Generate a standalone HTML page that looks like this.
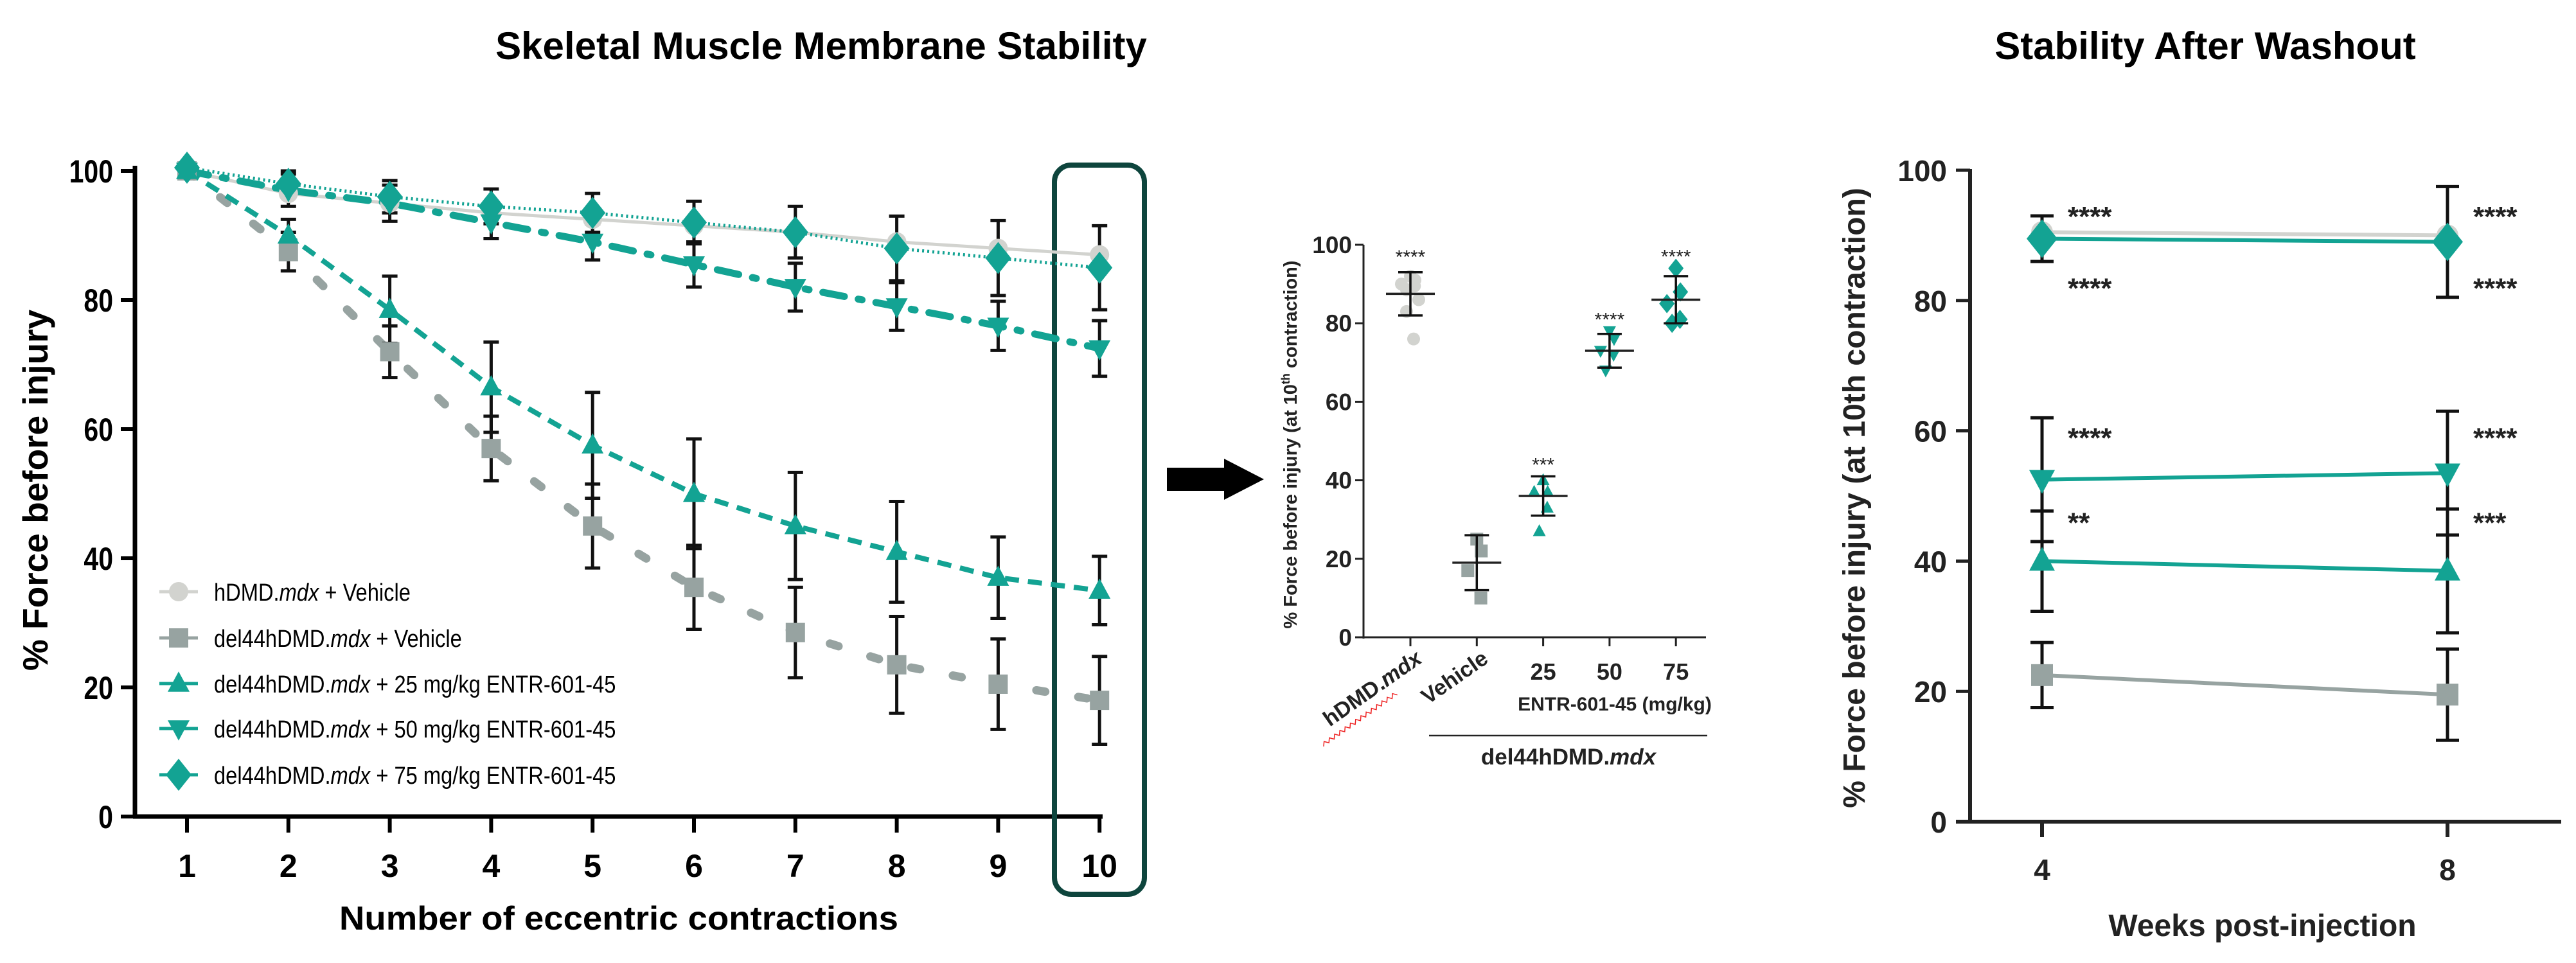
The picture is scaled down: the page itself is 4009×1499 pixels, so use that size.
<!DOCTYPE html>
<html><head><meta charset="utf-8"><style>
html,body{margin:0;padding:0;background:#fff}
svg{display:block}
text{font-family:"Liberation Sans",Arial,sans-serif}
</style></head><body>
<svg id="s" width="4009" height="1499" viewBox="0 0 4009 1499" xmlns="http://www.w3.org/2000/svg">
<text x="1278" y="92" font-size="60" font-weight="bold" text-anchor="middle">Skeletal Muscle Membrane Stability</text>
<text x="3432" y="92" font-size="60" font-weight="bold" text-anchor="middle">Stability After Washout</text>
<g id="left"></g>
<g id="mid"></g>
<g id="right"></g>
<polygon points="1816,728 1905,728 1905,714 1967,746 1905,778 1905,764 1816,764" fill="#000"/>
</svg>
<script>
// ---- left chart data ----
const contractions = [1,2,3,4,5,6,7,8,9,10];
const hdmdVeh = [100,96.5,95,93.5,92.5,91.5,90.5,89,88,87];
const delVeh = [100,87.5,72,57,45,35.5,28.5,23.5,20.5,18];
const delVehErr = [0,3,4,5,6.5,6.5,7,7.5,7,6.8];
const dose25 = [100,90,78.5,66.5,57.5,50,45,41,37,35];
const dose25Err = [0,2.5,5.2,7,8.2,8.5,8.3,7.8,6.3,5.3];
const dose50 = [100,97,95,92,89,85.5,82,79,76,72.5];
const dose50Err = [0,2.5,2.8,2.5,2.8,3.5,3.7,3.7,3.8,4.3];
const dose75 = [100.5,98,96,94.5,93.5,92,90.5,88,86.5,85];
const dose75Err = [0,2,2.5,2.7,3,3.3,4,5,5.8,6.5];
const leftYTicks = [0,20,40,60,80,100];
// ---- middle chart data ----
const midCats = ["hDMD.mdx","Vehicle","25","50","75"];
const midMeans = [87.5,19,36,73,86];
const midSD = [5.5,7,5,4.3,6];
const midPoints = [[92,91,90,89.5,88.5,86,83,76],[25,22,17,10],[40,37,37,33,27],[78,76,73,72,68],[94,88,85,81,80]];
const midStars = ["****","","***","****","****"];
const midYTicks = [0,20,40,60,80,100];
// ---- right chart data ----
const weeks = [4,8];
const rHdmd = [90.5,90];
const rVeh = [22.5,19.5]; const rVehErr = [5,7];
const r25 = [40,38.5]; const r25Err = [7.7,9.5];
const r50 = [52.5,53.5]; const r50Err = [9.5,9.5];
const r75 = [89.5,89]; const r75Err = [3.5,8.5];
const rStars = [["****","****","****","**"],["****","****","****","***"]];
const rStarVals = [94,83,60,47];
const rightYTicks = [0,20,40,60,80,100];

const NS="http://www.w3.org/2000/svg";
function mk(parent,tag,attrs,txt){const e=document.createElementNS(NS,tag);for(const k in attrs)e.setAttribute(k,attrs[k]);if(txt!==undefined)e.textContent=txt;parent.appendChild(e);return e;}
const TEAL="#13a393", GRAY="#97a3a1", LGRAY="#d2d3cf";
function marker(g,type,x,y,r,color){
  let e;
  if(type==="circle") e=mk(g,"circle",{cx:x,cy:y,r:r,fill:color});
  else if(type==="square") e=mk(g,"rect",{x:x-r,y:y-r,width:2*r,height:2*r,fill:color});
  else if(type==="up") e=mk(g,"polygon",{points:`${x},${y-r*1.1} ${x+r},${y+r*0.75} ${x-r},${y+r*0.75}`,fill:color});
  else if(type==="down") e=mk(g,"polygon",{points:`${x},${y+r*1.1} ${x+r},${y-r*0.75} ${x-r},${y-r*0.75}`,fill:color});
  else e=mk(g,"polygon",{points:`${x},${y-r*1.25} ${x+r},${y} ${x},${y+r*1.25} ${x-r},${y}`,fill:color});
  return e;
}
function errbar(g,x,y1,y2,w,sw){
  mk(g,"line",{x1:x,y1:y1,x2:x,y2:y2,stroke:"#111","stroke-width":sw});
  mk(g,"line",{x1:x-w,y1:y1,x2:x+w,y2:y1,stroke:"#111","stroke-width":sw});
  mk(g,"line",{x1:x-w,y1:y2,x2:x+w,y2:y2,stroke:"#111","stroke-width":sw});
}

// ===== LEFT =====
(function(){
const g=document.getElementById("left");
const X=i=>291+(i-1)*157.8, Y=v=>1271-v*10.05;
mk(g,"line",{x1:210,y1:258,x2:210,y2:1273,stroke:"#000","stroke-width":7});
mk(g,"line",{x1:207,y1:1271,x2:1716,y2:1271,stroke:"#000","stroke-width":7});
leftYTicks.forEach(v=>{const t=mk(g,"line",{x1:188,y1:Y(v),x2:210,y2:Y(v),stroke:"#000","stroke-width":6});
 
 const l=mk(g,"text",{x:176,y:Y(v)+18,"font-size":50,"font-weight":"bold","text-anchor":"end",transform:`translate(${176},0) scale(0.82,1) translate(${-176},0)`},String(v));
 });
contractions.forEach(c=>{mk(g,"line",{x1:X(c),y1:1271,x2:X(c),y2:1296,stroke:"#000","stroke-width":6});
 const l=mk(g,"text",{x:X(c),y:1365,"font-size":50,"font-weight":"bold","text-anchor":"middle"},String(c));
 });
let t=mk(g,"text",{x:963,y:1447,"font-size":52,"font-weight":"bold","text-anchor":"middle",textLength:870,lengthAdjust:"spacingAndGlyphs"},"Number of eccentric contractions");

t=mk(g,"text",{x:0,y:0,"font-size":55,"font-weight":"bold","text-anchor":"middle",transform:"translate(74,763) rotate(-90)"},"% Force before injury");

t=mk(g,"rect",{x:1641,y:257,width:140,height:1135,rx:26,fill:"none",stroke:"#0e453d","stroke-width":8});

const series=[
 {v:hdmdVeh,e:null,c:LGRAY,m:"circle",r:15,dash:null,w:5,name:"hdmd-vehicle"},
 {v:delVeh,e:delVehErr,c:GRAY,m:"square",r:15,dash:"14 52",w:13,name:"del44-vehicle"},
 {v:dose25,e:dose25Err,c:TEAL,m:"up",r:17,dash:"22 14",w:8,name:"dose-25"},
 {v:dose50,e:dose50Err,c:TEAL,m:"down",r:17,dash:"34 22 6 22",w:11,name:"dose-50"},
 {v:dose75,e:dose75Err,c:TEAL,m:"diamond",r:20,dash:"3 5",w:5,name:"dose-75"}];
series.forEach(s=>{
 const d=s.v.map((v,i)=>(i?"L":"M")+X(contractions[i])+","+Y(v)).join(" ");
 const p=mk(g,"path",{d:d,fill:"none",stroke:s.c,"stroke-width":s.w,"stroke-linecap":s.dash&&s.w>10?"round":"butt"});
 if(s.dash)p.setAttribute("stroke-dasharray",s.dash);
 
 if(s.e) s.v.forEach((v,i)=>{if(s.e[i]>0)errbar(g,X(contractions[i]),Y(v+s.e[i]),Y(v-s.e[i]),12,5);});
});
series.forEach(s=>{s.v.forEach((v,i)=>{const m=marker(g,s.m,X(contractions[i]),Y(v),s.r,s.c);
 });});
const legY=[921,993,1064,1134,1206];
const legTxt=[["hDMD.","mdx"," + Vehicle"],["del44hDMD.","mdx"," + Vehicle"],["del44hDMD.","mdx"," + 25 mg/kg ENTR-601-45"],["del44hDMD.","mdx"," + 50 mg/kg ENTR-601-45"],["del44hDMD.","mdx"," + 75 mg/kg ENTR-601-45"]];
series.forEach((s,i)=>{
 mk(g,"line",{x1:248,y1:legY[i],x2:308,y2:legY[i],stroke:s.c,"stroke-width":5});
 marker(g,s.m,278,legY[i],s.r,s.c);
 const tx=mk(g,"text",{x:333,y:legY[i]+14,"font-size":38,transform:"translate(333,0) scale(0.86,1) translate(-333,0)"});
 
 mk(tx,"tspan",{},legTxt[i][0]);mk(tx,"tspan",{"font-style":"italic"},legTxt[i][1]);mk(tx,"tspan",{},legTxt[i][2]);
});
})();

// ===== MIDDLE =====
(function(){
const g=document.getElementById("mid");
const X=i=>2195+i*103.3, Y=v=>992-v*6.11;
mk(g,"line",{x1:2122,y1:381,x2:2122,y2:994,stroke:"#222","stroke-width":3});
mk(g,"line",{x1:2109,y1:992,x2:2655,y2:992,stroke:"#222","stroke-width":3});
midYTicks.forEach(v=>{mk(g,"line",{x1:2109,y1:Y(v),x2:2122,y2:Y(v),stroke:"#222","stroke-width":3});
 const l=mk(g,"text",{x:2104,y:Y(v)+13,"font-size":37,"font-weight":"bold","text-anchor":"end",fill:"#222"},String(v));
 });
let t=mk(g,"text",{x:0,y:0,"font-size":29,"font-weight":"bold","text-anchor":"middle",fill:"#222",transform:"translate(2018,692) rotate(-90)"});

mk(t,"tspan",{},"% Force before injury (at 10");mk(t,"tspan",{"font-size":18,dy:-11},"th");mk(t,"tspan",{dy:11}," contraction)");
const types=["circle","square","up","down","diamond"], cols=[LGRAY,GRAY,TEAL,TEAL,TEAL];
midCats.forEach((c,i)=>{
 const x=X(i);
 mk(g,"line",{x1:x,y1:992,x2:x,y2:1006,stroke:"#222","stroke-width":3});
 midPoints[i].forEach((v,j)=>{const n=midPoints[i].length;const dx=n>1?(j%2?1:-1)*((j*7)%22)*(j%3===0?0.3:1):0;
  const m=marker(g,types[i],x+dx,Y(v),i===4?12:10,cols[i]);});
 mk(g,"line",{x1:x-38,y1:Y(midMeans[i]),x2:x+38,y2:Y(midMeans[i]),stroke:"#222","stroke-width":3.5});
 errbar(g,x,Y(midMeans[i]+midSD[i]),Y(midMeans[i]-midSD[i]),19,3.5);
 if(midStars[i]){const s=mk(g,"text",{x:x,y:Y(Math.max(...midPoints[i],midMeans[i]+midSD[i]))+(i===0?-14:-8),"font-size":30,"text-anchor":"middle",fill:"#222"},midStars[i]);
  }
 let l;
 if(i<2){l=mk(g,"text",{x:0,y:0,"font-size":34,"font-weight":"bold","text-anchor":"end",fill:"#222",transform:`translate(${x+20},1030) rotate(-35)`});
  if(i===0){mk(l,"tspan",{},"hDMD.");mk(l,"tspan",{"font-style":"italic"},"mdx");}else l.textContent=c;}
 else l=mk(g,"text",{x:x,y:1058,"font-size":36,"font-weight":"bold","text-anchor":"middle",fill:"#222"},c);
 
});
const sq=mk(g,"path",{d:"M2060,1162 l5,-6 l5,6 l5,-6 l5,6 l5,-6 l5,6 l5,-6 l5,6 l5,-6 l5,6 l5,-6 l5,6 l5,-6 l5,6 l5,-6 l5,6 l5,-6 l5,6 l5,-6 l5,6 l5,-6 l5,6 l5,-6 l5,6 l5,-6 l5,6 l5,-6 l5,6",fill:"none",stroke:"#e22","stroke-width":1.5,transform:"rotate(-35 2060 1162)"});

t=mk(g,"text",{x:2513,y:1106,"font-size":30,"font-weight":"bold","text-anchor":"middle",fill:"#222"},"ENTR-601-45 (mg/kg)");

mk(g,"line",{x1:2224,y1:1145,x2:2657,y2:1145,stroke:"#222","stroke-width":2.5});
t=mk(g,"text",{x:2441,y:1190,"font-size":35,"font-weight":"bold","text-anchor":"middle",fill:"#222"});

mk(t,"tspan",{},"del44hDMD.");mk(t,"tspan",{"font-style":"italic"},"mdx");
})();

// ===== RIGHT =====
(function(){
const g=document.getElementById("right");
const X=w=>3178+(w-4)*157.75, Y=v=>1279-v*10.14;
mk(g,"line",{x1:3066,y1:263,x2:3066,y2:1282,stroke:"#222","stroke-width":6});
mk(g,"line",{x1:3044,y1:1279,x2:3986,y2:1279,stroke:"#222","stroke-width":6});
rightYTicks.forEach(v=>{mk(g,"line",{x1:3044,y1:Y(v),x2:3066,y2:Y(v),stroke:"#222","stroke-width":5});
 const l=mk(g,"text",{x:3030,y:Y(v)+17,"font-size":46,"font-weight":"bold","text-anchor":"end",fill:"#222"},String(v));
 });
weeks.forEach(w=>{mk(g,"line",{x1:X(w),y1:1279,x2:X(w),y2:1303,stroke:"#222","stroke-width":6});
 const l=mk(g,"text",{x:X(w),y:1370,"font-size":46,"font-weight":"bold","text-anchor":"middle",fill:"#222"},String(w));
 });
let t=mk(g,"text",{x:3521,y:1457,"font-size":48,"font-weight":"bold","text-anchor":"middle",fill:"#222"},"Weeks post-injection");

t=mk(g,"text",{x:0,y:0,"font-size":48,"font-weight":"bold","text-anchor":"middle",fill:"#222",transform:"translate(2902,775) rotate(-90)"},"% Force before injury (at 10th contraction)");

const series=[
 {v:rHdmd,e:null,c:LGRAY,m:"circle",r:17,name:"r-hdmd"},
 {v:rVeh,e:rVehErr,c:GRAY,m:"square",r:17,name:"r-vehicle"},
 {v:r25,e:r25Err,c:TEAL,m:"up",r:20,name:"r-dose-25"},
 {v:r50,e:r50Err,c:TEAL,m:"down",r:20,name:"r-dose-50"},
 {v:r75,e:r75Err,c:TEAL,m:"diamond",r:24,name:"r-dose-75"}];
series.forEach(s=>{
 const l=mk(g,"line",{x1:X(weeks[0]),y1:Y(s.v[0]),x2:X(weeks[1]),y2:Y(s.v[1]),stroke:s.c,"stroke-width":6});
 
 if(s.e) s.v.forEach((v,i)=>errbar(g,X(weeks[i]),Y(v+s.e[i]),Y(v-s.e[i]),18,5));
});
series.forEach(s=>s.v.forEach((v,i)=>{const m=marker(g,s.m,X(weeks[i]),Y(v),s.r,s.c);
 }));
weeks.forEach((w,i)=>rStars[i].forEach((st,j)=>{
 const s=mk(g,"text",{x:X(w)+40,y:Y(rStarVals[j])+26,"font-size":44,"font-weight":"bold",fill:"#222"},st);
 }));
})();
</script>
</body></html>
